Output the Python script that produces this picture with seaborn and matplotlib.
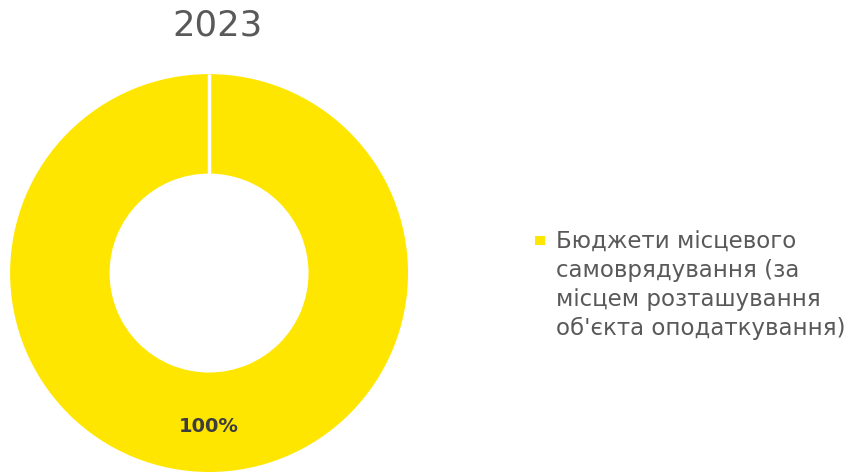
import numpy as np
import matplotlib.pyplot as plt
import seaborn as sns
from matplotlib.patches import Rectangle

# Дані
title = '2023'
categories = ['Бюджети місцевого\nсамоврядування (за\nмісцем розташування\nоб\'єкта оподаткування)']
values = [100]
colors = ['#FFE600']

sns.set_theme(style='white')
plt.rcParams['font.family'] = ['DejaVu Sans']

fig = plt.figure(figsize=(8.51, 4.72), dpi=100)
ax = fig.add_axes([0.0118, 0.0, 0.4677, 0.843])

ring = 0.5
wedges, texts, autotexts = ax.pie(
    values, colors=colors, startangle=90, counterclock=False,
    radius=1, autopct='%1.0f%%', pctdistance=0.77,
    wedgeprops=dict(width=ring, edgecolor='none'),
    textprops=dict(color='#3d3d3d', fontsize=14, fontweight='bold'),
)
# біла лінія на межі сектора (початок кола)
for w in wedges:
    ang = np.deg2rad(w.theta1)
    ax.plot([(w.r - ring) * np.cos(ang), w.r * np.cos(ang)],
            [(w.r - ring) * np.sin(ang), w.r * np.sin(ang)],
            color='white', linewidth=2.5, solid_capstyle='butt')
ax.set_xlim(-1, 1)
ax.set_ylim(-1, 1)
ax.set_aspect('equal')
ax.axis('off')

fig.text(0.255, 0.945, title, ha='center', va='center', fontsize=25.5, color='#595959')

# легенда: маркер біля першого рядка
fig.text(0.653, 0.512, categories[0], ha='left', va='top', fontsize=16.5,
         color='#595959', linespacing=1.33)
fig.patches.append(Rectangle((0.629, 0.481), 0.0118, 0.019, transform=fig.transFigure,
                             facecolor=colors[0], edgecolor='none', figure=fig))

fig.savefig('out.png', dpi=100)
